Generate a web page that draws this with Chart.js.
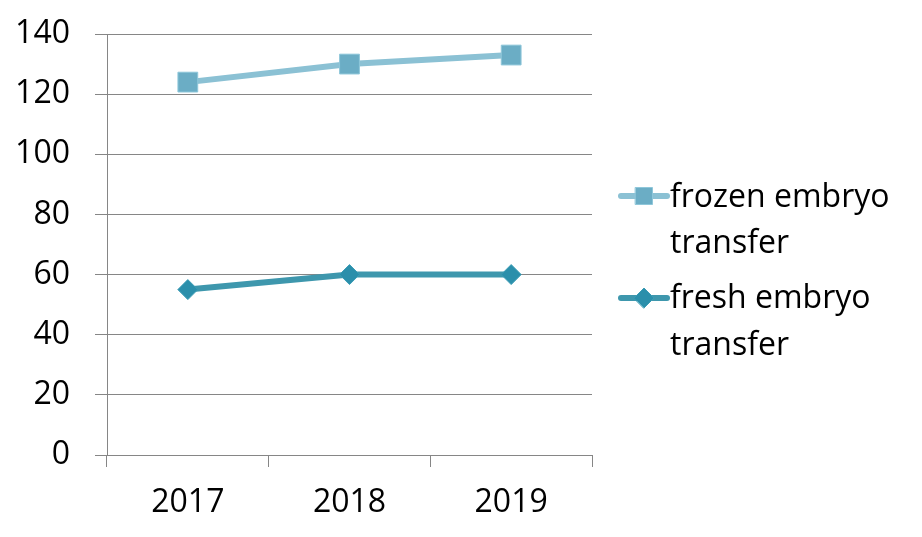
<!DOCTYPE html>
<html>
<head>
<meta charset="utf-8">
<script src="https://cdn.jsdelivr.net/npm/chart.js@4"></script>
<style>
html,body{margin:0;padding:0;background:#fff;}
#wrap{width:922px;height:537px;}
</style>
</head>
<body>
<div id="wrap"><canvas id="grafico" width="922" height="537"></canvas></div>
<script>

/* =============================
DADOS
============================= */

const anos=["2017","2018","2019"];
const frozen=[124,130,133];
const fresh=[55,60,60];
const nomes=[["frozen embryo","transfer"],["fresh embryo","transfer"]];

const FONTE="'Open Sans', sans-serif";
const GRID="#868686";

/* =============================
LEGENDA (canvas)
============================= */

const legendaDireita={
id:"legendaDireita",
afterDraw(chart){

const ctx=chart.ctx;
const area=chart.chartArea;
const x0=area.right+29;
const linhas=[[196,207,253],[298,308,355]];

chart.data.datasets.forEach((ds,i)=>{

const [ly,b1,b2]=linhas[i];

ctx.save();
ctx.strokeStyle=ds.borderColor;
ctx.lineWidth=6;
ctx.lineCap="round";
ctx.beginPath();
ctx.moveTo(x0,ly);
ctx.lineTo(x0+46,ly);
ctx.stroke();

ctx.fillStyle=ds.pointBackgroundColor;
ctx.strokeStyle=ds.pointBorderColor;
ctx.lineWidth=1;
Chart.helpers.drawPoint(ctx,{pointStyle:ds.pointStyle,radius:i===0?12:10,borderWidth:1},x0+23,ly);
ctx.restore();

ctx.save();
ctx.fillStyle="#000";
ctx.font="32px "+FONTE;
ctx.textBaseline="alphabetic";
ctx.fillText(nomes[i][0],x0+49,b1);
ctx.fillText(nomes[i][1],x0+49,b2);
ctx.restore();

});

}
};

/* =============================
GRAFICO
============================= */

new Chart(document.getElementById("grafico"),{
type:"line",
data:{
labels:anos,
datasets:[
{
label:nomes[0].join(" "),
data:frozen,
borderColor:"#8bc1d4",
borderWidth:6,
pointStyle:"rect",
pointRadius:14,
pointBackgroundColor:"#6badc5",
pointBorderColor:"#8fc7da",
pointBorderWidth:1
},
{
label:nomes[1].join(" "),
data:fresh,
borderColor:"#3e97ad",
borderWidth:6,
pointStyle:"rectRot",
pointRadius:10,
pointBackgroundColor:"#2b8fab",
pointBorderColor:"#3a9cb5",
pointBorderWidth:1
}
]
},
options:{
responsive:false,
animation:false,
layout:{padding:{top:34,right:330,bottom:0,left:0}},
plugins:{
legend:{display:false},
tooltip:{enabled:false}
},
scales:{
x:{
offset:true,
grid:{offset:true,drawOnChartArea:false,tickLength:12,color:GRID},
border:{color:GRID},
ticks:{color:"#000",font:{size:32,family:FONTE},padding:17,maxRotation:0},
afterFit(s){s.height=82;}
},
y:{
min:0,
max:140,
ticks:{stepSize:20,color:"#000",font:{size:32,family:FONTE},padding:25},
grid:{color:GRID,tickLength:12},
border:{color:GRID},
afterFit(s){s.width=107;s.paddingTop=0;}
}
}
},
plugins:[legendaDireita]
});

</script>
</body>
</html>
